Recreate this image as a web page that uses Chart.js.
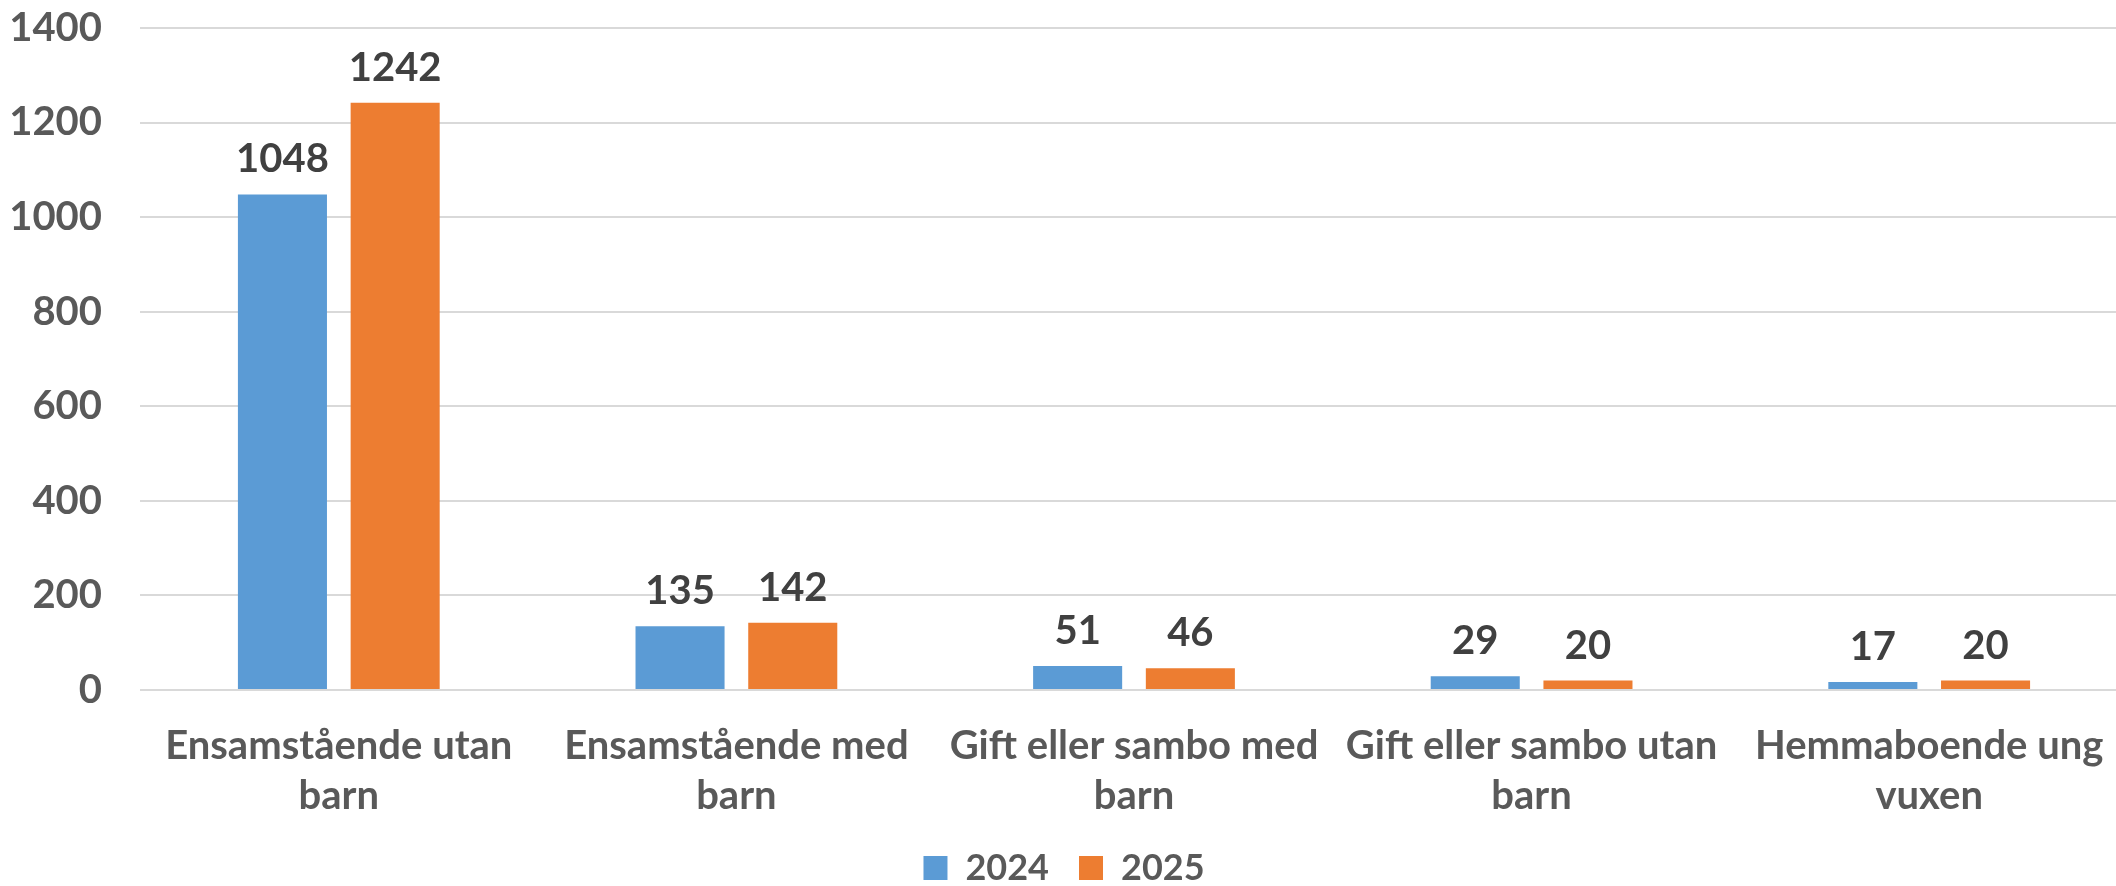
<!DOCTYPE html>
<html>
<head>
<meta charset="utf-8">
<script src="https://cdn.jsdelivr.net/npm/chart.js@4.4.1/dist/chart.umd.min.js"></script>
<style>
  html, body { margin: 0; padding: 0; background: #fff; overflow: hidden; }
  #wrap { position: relative; top: -34px; width: 2168px; height: 930px; }
</style>
</head>
<body>
<div id="wrap"><canvas id="hushall"></canvas></div>
<script>
// categories (split over two lines like the original)
const categories = [
  ['Ensamstående utan', 'barn'],
  ['Ensamstående med', 'barn'],
  ['Gift eller sambo med', 'barn'],
  ['Gift eller sambo utan', 'barn'],
  ['Hemmaboende ung', 'vuxen']
];
const years = ['2024', '2025'];
const values2024 = [1048, 135, 51, 29, 17];
const values2025 = [1242, 142, 46, 20, 20];
const yTicks = [0, 200, 400, 600, 800, 1000, 1200, 1400];

const FONT = 'Lato, "Open Sans", sans-serif';

// draws the value above each bar
const valueLabels = {
  id: 'valueLabels',
  afterDatasetsDraw(chart) {
    const ctx = chart.ctx;
    ctx.save();
    ctx.font = 'bold 40px ' + FONT;
    ctx.fillStyle = '#404040';
    ctx.textAlign = 'center';
    ctx.textBaseline = 'alphabetic';
    chart.data.datasets.forEach((ds, i) => {
      chart.getDatasetMeta(i).data.forEach((bar, j) => {
        ctx.fillText(String(ds.data[j]), bar.x, bar.y - 22);
      });
    });
    ctx.restore();
  }
};

new Chart(document.getElementById('hushall'), {
  type: 'bar',
  data: {
    labels: categories,
    datasets: [
      { label: years[0], data: values2024, backgroundColor: '#5B9BD5' },
      { label: years[1], data: values2025, backgroundColor: '#ED7D31' }
    ]
  },
  options: {
    responsive: true,
    maintainAspectRatio: false,
    animation: false,
    datasets: { bar: { categoryPercentage: 0.567, barPercentage: 0.79 } },
    layout: { padding: { top: 0, right: 40, left: 0, bottom: 0 } },
    scales: {
      x: {
        afterFit: s => { s.height = 130; },
        grid: { display: false, drawTicks: false },
        border: { display: false },
        ticks: {
          color: '#595959',
          padding: 31,
          maxRotation: 0,
          autoSkip: false,
          font: { family: FONT, size: 40, weight: 'bold', lineHeight: 1.25 }
        }
      },
      y: {
        min: 0,
        max: 1400,
        afterFit: s => { s.width = 140; },
        afterBuildTicks: s => { s.ticks = yTicks.map(v => ({ value: v })); },
        grid: { color: '#D9D9D9', lineWidth: 2, drawTicks: false },
        border: { display: false },
        ticks: {
          color: '#595959',
          padding: 38,
          callback: v => String(v),
          font: { family: FONT, size: 40, weight: 'bold' }
        }
      }
    },
    plugins: {
      tooltip: { enabled: false },
      legend: {
        position: 'bottom',
        labels: {
          color: '#595959',
          boxWidth: 24,
          boxHeight: 24,
          padding: 30,
          font: { family: FONT, size: 36, weight: 'bold' }
        }
      }
    }
  },
  plugins: [valueLabels]
});
</script>
</body>
</html>
